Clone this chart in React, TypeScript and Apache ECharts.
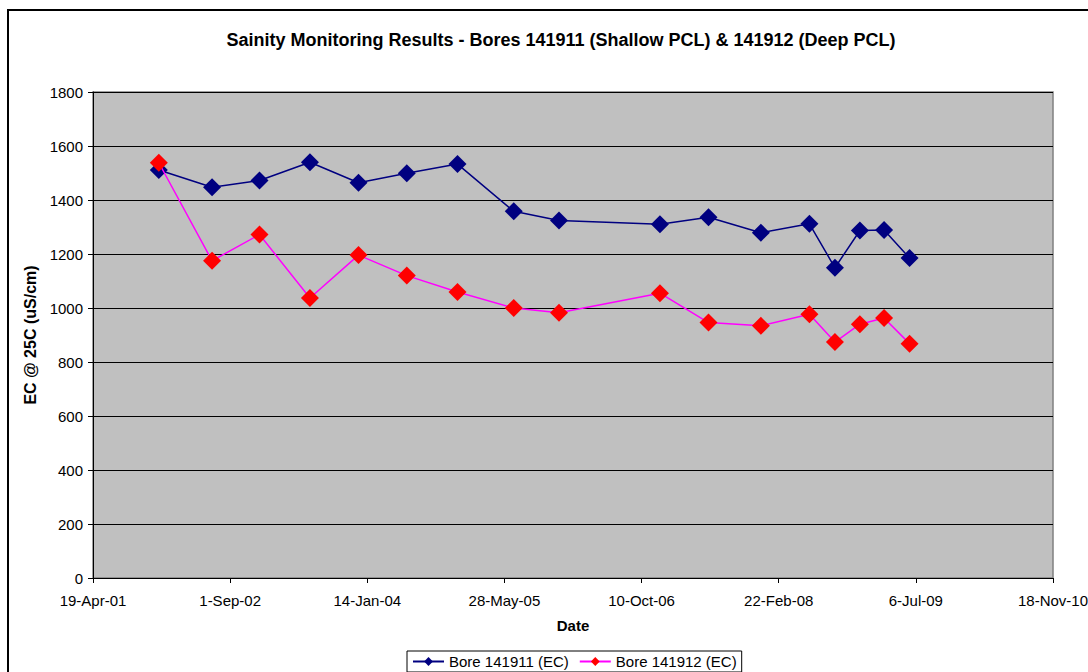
import React, { useEffect, useRef } from "react";
import * as echarts from "echarts";

const sampleDates = [
  "2001-12-15", "2002-06-27", "2002-12-17", "2003-06-19", "2003-12-13",
  "2004-06-06", "2004-12-08", "2005-07-01", "2005-12-13", "2006-12-16",
  "2007-06-11", "2007-12-19", "2008-06-13", "2008-09-14", "2008-12-14",
  "2009-03-12", "2009-06-13",
];
const bore141911 = [1511, 1447, 1472, 1540, 1464, 1499, 1533, 1358, 1324, 1310, 1336, 1279, 1312, 1149, 1287, 1289, 1185];
const bore141912 = [1538, 1175, 1272, 1037, 1196, 1120, 1059, 1000, 982, 1055, 946, 934, 977, 874, 940, 963, 868];
const seriesNames = ["Bore 141911 (EC)", "Bore 141912 (EC)"];
const xAxisStart = "2001-04-19";
const xAxisEnd = "2010-11-18";
const xTickDays = 500;
const yMax = 1800;
const yStep = 200;

const MONTHS = ["Jan", "Feb", "Mar", "Apr", "May", "Jun", "Jul", "Aug", "Sep", "Oct", "Nov", "Dec"];
const EPOCH = Date.UTC(1899, 11, 30);
const DAY = 86400000;

function toSerial(iso: string): number {
  const [y, m, d] = iso.split("-").map(Number);
  return Math.round((Date.UTC(y, m - 1, d) - EPOCH) / DAY);
}
function fmtSerial(v: number): string {
  const dt = new Date(EPOCH + Math.round(v) * DAY);
  const yy = String(dt.getUTCFullYear() % 100).padStart(2, "0");
  return `${dt.getUTCDate()}-${MONTHS[dt.getUTCMonth()]}-${yy}`;
}

export default function App() {
  const ref = useRef<HTMLDivElement>(null);
  useEffect(() => {
    if (!ref.current) return;
    const chart = echarts.init(ref.current, null, { renderer: "svg" });
    const font = "'Liberation Sans', Arial, sans-serif";
    const s1 = sampleDates.map((d, i) => [toSerial(d), bore141911[i]]);
    const s2 = sampleDates.map((d, i) => [toSerial(d), bore141912[i]]);
    chart.setOption({
      animation: false,
      backgroundColor: "#ffffff",
      textStyle: { fontFamily: font },
      title: {
        text: "Sainity Monitoring Results - Bores 141911 (Shallow PCL) & 141912 (Deep PCL)",
        left: 556,
        top: 26,
        textAlign: "center",
        textStyle: { fontSize: 18, fontWeight: "bold", color: "#000", fontFamily: font },
      },
      graphic: [
        {
          type: "rect",
          shape: { x: 8, y: 10, width: 1200, height: 800 },
          style: { fill: "none", stroke: "#000", lineWidth: 2 },
          silent: true,
        },
      ],
      legend: {
        left: 407,
        top: 651,
        orient: "horizontal",
        itemWidth: 31,
        itemHeight: 11,
        itemGap: 10,
        padding: [3, 5, 3, 5],
        borderColor: "#000",
        borderWidth: 1,
        backgroundColor: "#fff",
        textStyle: { fontSize: 15, color: "#000", fontFamily: font },
        data: seriesNames,
      },
      grid: {
        left: 93,
        top: 92,
        width: 960,
        height: 486,
        show: true,
        backgroundColor: "#C0C0C0",
        borderColor: "#808080",
        borderWidth: 1.5,
        containLabel: false,
        outerBoundsMode: "none",
      },
      xAxis: {
        type: "value",
        min: toSerial(xAxisStart),
        max: toSerial(xAxisEnd),
        interval: xTickDays,
        name: "Date",
        nameLocation: "middle",
        nameGap: 40,
        nameTextStyle: { fontSize: 15, fontWeight: "bold", color: "#000", fontFamily: font },
        axisLine: { show: true, lineStyle: { color: "#000", width: 1 } },
        axisTick: { show: true, length: 5, lineStyle: { color: "#000" } },
        axisLabel: { fontSize: 15, color: "#000", margin: 15, formatter: (v: number) => fmtSerial(v), fontFamily: font },
        splitLine: { show: false },
      },
      yAxis: {
        type: "value",
        min: 0,
        max: yMax,
        interval: yStep,
        name: "EC @ 25C (uS/cm)",
        nameLocation: "middle",
        nameGap: 50,
        nameTextStyle: { fontSize: 16, fontWeight: "bold", color: "#000", fontFamily: font },
        axisLine: { show: true, lineStyle: { color: "#000", width: 1 } },
        axisTick: { show: true, length: 5, lineStyle: { color: "#000" } },
        axisLabel: { fontSize: 15, color: "#000", margin: 10, fontFamily: font, formatter: (v: number) => String(v) },
        splitLine: { show: true, lineStyle: { color: "#000", width: 1 } },
      },
      series: [
        {
          name: seriesNames[0],
          type: "line",
          data: s1,
          symbol: "diamond",
          symbolSize: 18,
          itemStyle: { color: "#000080" },
          lineStyle: { color: "#000080", width: 1.5 },
          z: 3,
        },
        {
          name: seriesNames[1],
          type: "line",
          data: s2,
          symbol: "diamond",
          symbolSize: 18,
          itemStyle: { color: "#FF0000" },
          lineStyle: { color: "#FF00FF", width: 1.5 },
          z: 4,
        },
      ],
    });
    return () => chart.dispose();
  }, []);
  return (
    <div
      ref={ref}
      style={{ position: "fixed", left: 0, top: 0, width: 1088, height: 672 }}
    />
  );
}
